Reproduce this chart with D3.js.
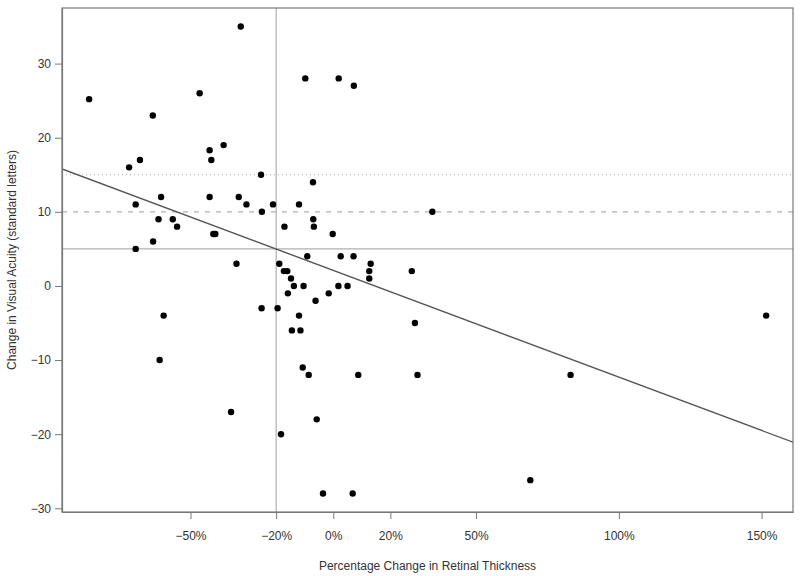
<!DOCTYPE html>
<html>
<head>
<meta charset="utf-8">
<script src="https://cdn.jsdelivr.net/npm/d3@7"></script>
<style>
  body { margin: 0; background: #fff; }
  text { font-family: "Liberation Sans", Arial, sans-serif; }
</style>
</head>
<body>
<div id="chart"></div>
<script>
// Change in retinal thickness (%) vs change in visual acuity (letters)
const thicknessChange = [
  -85.5, -32.4, -46.8, -63.2, -71.5, -67.7, -69.2, -60.3, -61.2, -56.2,
  -54.7, -63.1, -69.2, -43.3, -42.7, -38.4, -43.3, -42.0, -41.3, -33.1,
  -30.4, -25.3, -25.0, -21.1, -33.9, -9.8, 1.9, 7.2, -7.1, -12.0,
  -7.0, -6.8, -17.1, -0.2, -9.1, 2.6, 7.1, -18.9, -17.3, -16.1,
  -14.8, -13.8, -10.4, 1.8, 5.0, 12.6, 12.6, 13.1, 34.7, 27.5,
  -59.4, -60.8, -35.8, -25.1, -19.5, -18.3, -15.9, -14.5, -11.5, -12.0,
  -6.2, -1.6, -10.7, -8.6, -5.8, -3.6, 6.8, 8.75, 28.6, 29.5,
  83.1, 69.0, 151.6
];
const acuityChange = [
  25.2, 35, 26, 23, 16, 17, 11, 12, 9, 9,
  8, 6, 5, 18.3, 17, 19, 12, 7, 7, 12,
  11, 15, 10, 11, 3, 28, 28, 27, 14, 11,
  9, 8, 8, 7, 4, 4, 4, 3, 2, 2,
  1, 0, 0, 0, 0, 1, 2, 3, 10, 2,
  -4, -10, -17, -3, -3, -20, -1, -6, -6, -4,
  -2, -1, -11, -12, -18, -28, -28, -12, -5, -12,
  -12, -26.2, -4
];
const xTicks = [-50, -20, 0, 20, 50, 100, 150];
const yTicks = [-30, -20, -10, 0, 10, 20, 30];
const refLinesY = [5, 10, 15];          // solid, dashed, dotted
const refLineX = -20;
const fitIntercept = 2.1;               // regression line
const fitSlope = -0.144;

const width = 800, height = 576;
const margin = { top: 8, right: 7, bottom: 64, left: 62 };

const x = d3.scaleLinear().domain([-95, 161]).range([margin.left, width - margin.right]);
const y = d3.scaleLinear().domain([-30.5, 37.5]).range([height - margin.bottom, margin.top]);

const svg = d3.select('#chart').append('svg')
  .attr('width', width)
  .attr('height', height);

svg.append('clipPath').attr('id', 'plotClip')
  .append('rect')
  .attr('x', x.range()[0]).attr('y', y.range()[1])
  .attr('width', x.range()[1] - x.range()[0])
  .attr('height', y.range()[0] - y.range()[1]);

const plot = svg.append('g').attr('clip-path', 'url(#plotClip)');

// reference lines
const dashes = [null, '5,6', '1,3'];
plot.selectAll('line.ref')
  .data(refLinesY)
  .enter()
  .append('line')
  .attr('class', 'ref')
  .attr('x1', x.range()[0]).attr('x2', x.range()[1])
  .attr('y1', d => y(d)).attr('y2', d => y(d))
  .attr('stroke', '#b0b0b0')
  .attr('stroke-width', 1.2)
  .attr('stroke-dasharray', (d, i) => dashes[i]);

plot.append('line')
  .attr('x1', x(refLineX)).attr('x2', x(refLineX))
  .attr('y1', y.range()[0]).attr('y2', y.range()[1])
  .attr('stroke', '#b0b0b0')
  .attr('stroke-width', 1.2);

// regression line
const [x0, x1] = x.domain();
plot.append('line')
  .attr('x1', x(x0)).attr('y1', y(fitIntercept + fitSlope * x0))
  .attr('x2', x(x1)).attr('y2', y(fitIntercept + fitSlope * x1))
  .attr('stroke', '#555')
  .attr('stroke-width', 1.4);

// points
plot.selectAll('circle')
  .data(thicknessChange.map((v, i) => [v, acuityChange[i]]))
  .enter()
  .append('circle')
  .attr('cx', d => x(d[0]))
  .attr('cy', d => y(d[1]))
  .attr('r', 3.2)
  .attr('fill', '#000');

// box
svg.append('rect')
  .attr('x', x.range()[0]).attr('y', y.range()[1])
  .attr('width', x.range()[1] - x.range()[0])
  .attr('height', y.range()[0] - y.range()[1])
  .attr('fill', 'none')
  .attr('stroke', '#777')
  .attr('stroke-width', 1.2);

// axes
const xAxis = svg.append('g')
  .attr('transform', 'translate(0,' + y.range()[0] + ')')
  .call(d3.axisBottom(x).tickValues(xTicks).tickSizeInner(7).tickSizeOuter(0).tickPadding(12)
    .tickFormat(d => (d < 0 ? '\u2212' + Math.abs(d) : d) + '%'));

const yAxis = svg.append('g')
  .attr('transform', 'translate(' + x.range()[0] + ',0)')
  .call(d3.axisLeft(y).tickValues(yTicks).tickSizeInner(7).tickSizeOuter(0).tickPadding(4)
    .tickFormat(d => d < 0 ? '\u2212' + Math.abs(d) : d));

[xAxis, yAxis].forEach(a => {
  a.select('.domain').attr('stroke', '#777').attr('stroke-width', 1.2);
  a.selectAll('.tick line').attr('stroke', '#777');
  a.selectAll('.tick text').attr('fill', '#333').style('font-size', '12px');
});

// axis titles
svg.append('text')
  .attr('x', (x.range()[0] + x.range()[1]) / 2)
  .attr('y', 570)
  .attr('text-anchor', 'middle')
  .attr('fill', '#333')
  .style('font-size', '12px')
  .text('Percentage Change in Retinal Thickness');

svg.append('text')
  .attr('transform', 'translate(16,' + (y.range()[0] + y.range()[1]) / 2 + ') rotate(-90)')
  .attr('text-anchor', 'middle')
  .attr('fill', '#333')
  .style('font-size', '12px')
  .text('Change in Visual Acuity (standard letters)');
</script>
</body>
</html>
